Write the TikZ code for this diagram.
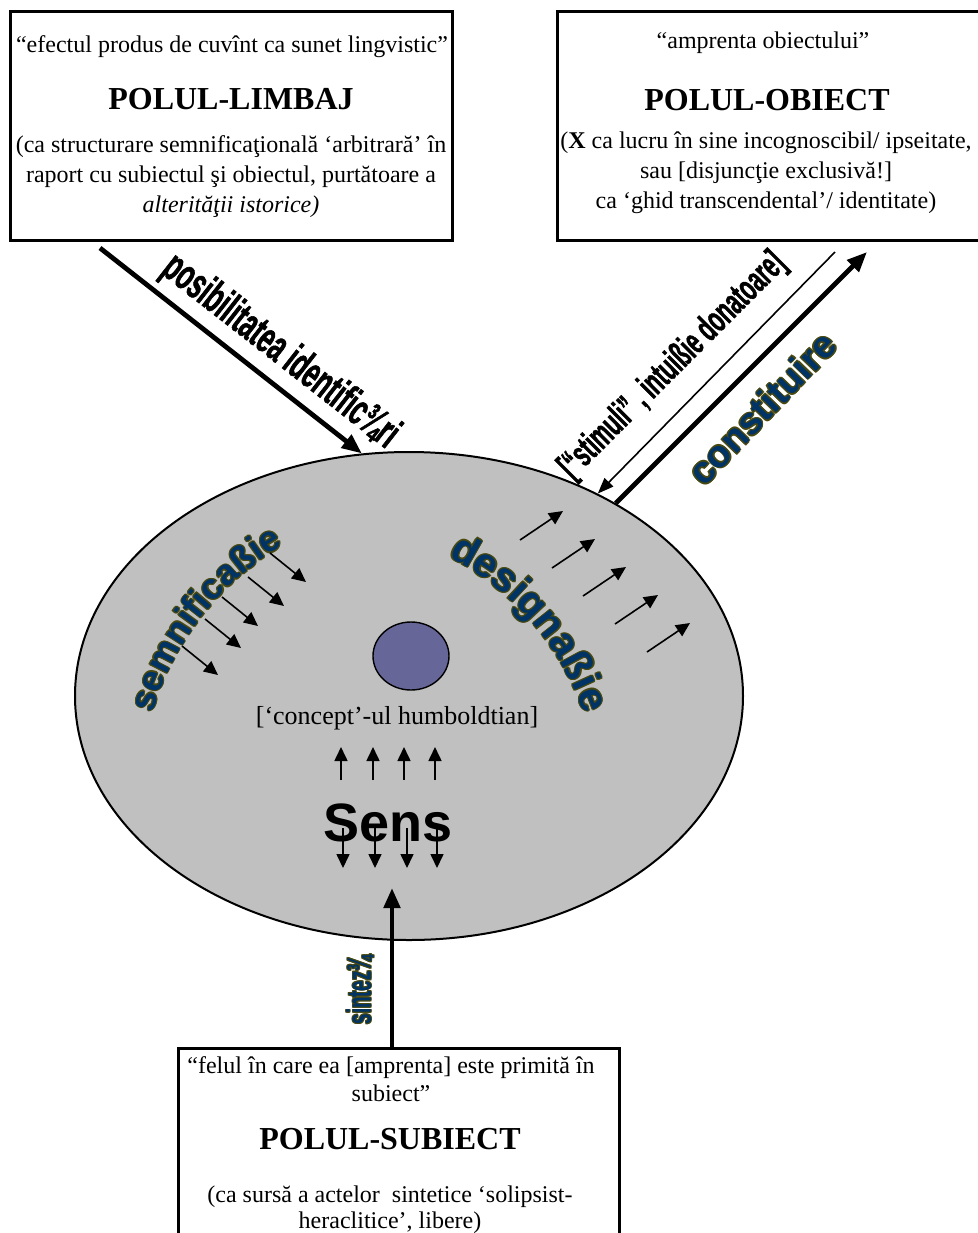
\documentclass[tikz,border=0pt]{standalone}
\usepackage{fontspec}
\setmainfont{Liberation Serif}
\newfontfamily\roundfont{Liberation Sans}
\newfontfamily\narrowfont{Liberation Sans}[FakeStretch=0.57, FakeBold=1.2]
\newfontfamily\tightfont{Liberation Sans}[FakeStretch=0.55]
\usetikzlibrary{shapes.geometric,arrows.meta,decorations.text,calc}

\definecolor{fieldgray}{RGB}{192,192,192}
\definecolor{conceptblue}{RGB}{102,102,153}
\definecolor{wordblue}{RGB}{0,51,102}
\definecolor{wordolive}{RGB}{72,72,16}

% word with an olive rim
\newcommand\olword[2][0.6pt]{%
  \leavevmode
  \rlap{\color{wordolive}\kern-#1\relax#2}%
  \rlap{\color{wordolive}\kern#1\relax#2}%
  \rlap{\color{wordolive}\raisebox{#1}{#2}}%
  \rlap{\color{wordolive}\raisebox{-#1}{#2}}%
  \rlap{\color{wordolive}\kern-#1\relax\raisebox{#1}{#2}}%
  \rlap{\color{wordolive}\kern#1\relax\raisebox{-#1}{#2}}%
  \rlap{\color{wordolive}\kern#1\relax\raisebox{#1}{#2}}%
  \rlap{\color{wordolive}\kern-#1\relax\raisebox{-#1}{#2}}%
  {\color{wordblue}#2}}

\tikzset{
  polebox/.style={draw, line width=1.5pt, inner sep=0pt},
  poltitle/.style={font=\bfseries\fontsize{16}{19}\selectfont},
  polnote/.style={align=center, font=\fontsize{12}{#1}\selectfont},
  bigarrow/.style={line width=2.4pt, -{Triangle[length=10pt,width=8pt]}},
  thinarrow/.style={line width=0.8pt, -{Triangle[length=8pt,width=6pt]}},
  smallarrow/.style={line width=0.8pt, -{Triangle[length=7pt,width=6.5pt]}},
  slanted/.style={font=\narrowfont\bfseries\fontsize{#1}{#1}\selectfont},
}

\begin{document}
\begin{tikzpicture}[x=0.5pt, y=-0.5pt, font=\fontsize{12}{14}\selectfont]
  \useasboundingbox (0,0) rectangle (978,1233);

  % the field of the sign
  \node[draw, ellipse, fill=fieldgray, line width=1pt, minimum width=334pt,
        minimum height=244pt, inner sep=0pt] (field) at (409,696) {};
  \node[draw, ellipse, fill=conceptblue, line width=0.7pt, minimum width=38pt,
        minimum height=34pt, inner sep=0pt] (concept) at (411,656) {};
  \node[font=\fontsize{13}{15}\selectfont] (humboldt) at (397,718) {[‘concept’-ul humboldtian]};
  \node[font=\roundfont\bfseries\fontsize{27}{30}\selectfont] (sens) at (388,823) {Sens};
  \foreach \x in {341,373,404,435}
    \draw[smallarrow] (\x,780) -- (\x,747);
  \foreach \x in {343,375,407,437}
    \draw[smallarrow] (\x,828) -- (\x,868);

  % curved words
  \coordinate (semnC) at (429,794);
  \coordinate (desC) at (322,803);
  \foreach \dx/\dy/\col in {-.6/0/wordolive,.6/0/wordolive,0/-.6/wordolive,0/.6/wordolive,
      -.45/-.45/wordolive,.45/.45/wordolive,-.45/.45/wordolive,.45/-.45/wordolive,0/0/wordblue}{
    \path[decorate, decoration={text along path, text align=center, text color=\col,
        text={|\roundfont\bfseries\fontsize{18}{20}\selectfont|semnificaßie}}]
      ($(semnC)+(175:144pt)+(\dx pt,\dy pt)$) arc[start angle=175, end angle=109, radius=144pt];
    \path[decorate, decoration={text along path, text align=center, text color=\col,
        text={|\roundfont\bfseries\fontsize{20.5}{22}\selectfont|designaßie}}]
      ($(desC)+(75.8:138.5pt)+(\dx pt,\dy pt)$) arc[start angle=75.8, end angle=5.8, radius=138.5pt];
  }
  \foreach \x/\y in {270/553,248/577,222/597,205/619,182/646}
    \draw[smallarrow] (\x,\y) -- ++(36,29);
  \foreach \x/\y in {520/540,552/568,583/596,615/624,647/652}
    \draw[smallarrow] (\x,\y) -- ++(43,-29);

  % the three poles
  \node[polebox, minimum width=221pt, minimum height=114.5pt] (limbaj) at (231,125.5) {};
  \node (limbajQ) at (232,47) {“efectul produs de cuvînt ca sunet lingvistic”};
  \node[poltitle] (limbajT) at (231,99) {POLUL-LIMBAJ};
  \node[polnote=15pt] (limbajN) at (231,177) {(ca structurare semnificaţională ‘arbitrară’ în\\
    raport cu subiectul şi obiectul, purtătoare a\\ \textit{alterităţii istorice)}};

  \node[polebox, minimum width=211.5pt, minimum height=114.5pt] (obiect) at (768.5,125.5) {};
  \node (obiectQ) at (763,43) {“amprenta obiectului”};
  \node[poltitle] (obiectT) at (767,100) {POLUL-OBIECT};
  \node[polnote=15pt] (obiectN) at (766,173) {(\textbf{X} ca lucru în sine incognoscibil/ ipseitate,\\
    sau [disjuncţie exclusivă!]\\ ca ‘ghid transcendental’/ identitate)};

  \node[polebox, minimum width=220.5pt, minimum height=96pt] (subiect) at (398.5,1144) {};
  \node[polnote=14pt] (subiectQ) at (391,1079) {“felul în care ea [amprenta] este primită în\\ subiect”};
  \node[poltitle] (subiectT) at (390,1139) {POLUL-SUBIECT};
  \node[polnote=13pt] (subiectN) at (390,1210) {(ca sursă a actelor\ \ sintetice ‘solipsist-\\
    heraclitice’, libere)};

  % connectors
  \coordinate (limbajOut) at (100,248);
  \coordinate (obiectIn) at (835,252);
  \coordinate (obiectOut) at (867,252);
  \coordinate (sintTip) at (392,888);
  \draw[bigarrow] (limbajOut) -- (field.101);
  \draw[thinarrow] (obiectIn) -- (field.47);
  \draw[bigarrow] (field.43) -- (obiectOut);
  \draw[bigarrow] (sintTip |- subiect.north) -- (sintTip);

  % labels on the connectors
  \node[slanted=22, rotate=-38] (posib) at (280,352) {posibilitatea identific¾ri};
  \node[slanted=18.5, rotate=45] (stimuli) at (673,366) {[“stimuli” , intuißie donatoare]};
  \node[font=\roundfont\bfseries\fontsize{19}{22}\selectfont, rotate=46] (constit) at (762,408)
    {\olword{constituire}};
  \node[font=\tightfont\bfseries\fontsize{17}{18}\selectfont, rotate=90] (sinteza) at (360,990)
    {\olword[0.4pt]{sintez¾}};
\end{tikzpicture}
\end{document}
